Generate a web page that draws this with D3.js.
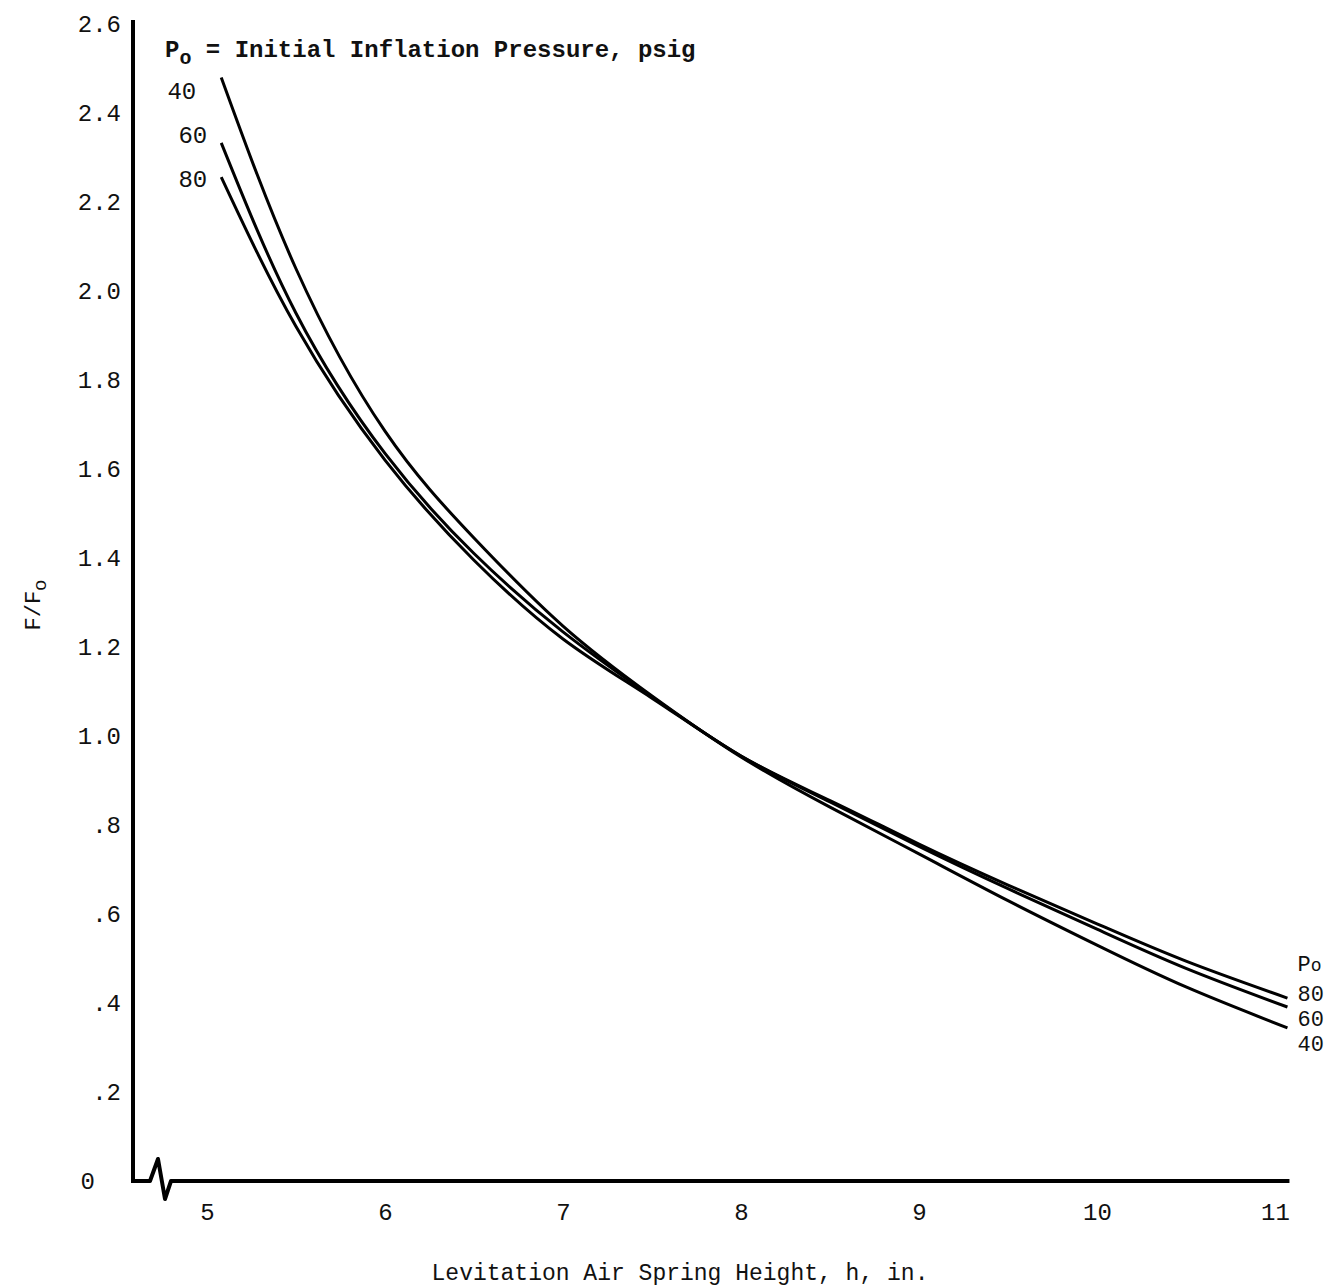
<!DOCTYPE html>
<html>
<head>
<meta charset="utf-8">
<script src="https://cdn.jsdelivr.net/npm/d3@7"></script>
<style>
  body { margin: 0; background: #fff; }
  text { font-family: "Liberation Mono", "Courier New", monospace; fill: #111; }
</style>
</head>
<body>
<script>
// F/Fo against air spring height, one curve per inflation pressure
var heights = [5.08, 5.5, 6, 6.5, 7, 7.5, 8, 8.5, 9, 9.5, 10, 10.5, 11.07];
var p40 = [2.48, 2.05, 1.685, 1.445, 1.247, 1.09, 0.953, 0.84, 0.735, 0.63, 0.53, 0.436, 0.344];
var p60 = [2.333, 1.95, 1.635, 1.41, 1.234, 1.088, 0.955, 0.852, 0.752, 0.657, 0.566, 0.478, 0.391];
var p80 = [2.256, 1.92, 1.62, 1.395, 1.218, 1.085, 0.955, 0.855, 0.757, 0.665, 0.578, 0.494, 0.411];
var pressures = ["40", "60", "80"];
var xTicks = [5, 6, 7, 8, 9, 10, 11];
var yTicks = [0, 0.2, 0.4, 0.6, 0.8, 1.0, 1.2, 1.4, 1.6, 1.8, 2.0, 2.2, 2.4, 2.6];

var width = 1343,
    height = 1287;

var x = d3.scaleLinear().domain([5, 11]).range([207, 1275]);
var y = d3.scaleLinear().domain([0, 2.6]).range([1181, 24]);

var svg = d3.select("body").append("svg")
    .attr("width", width)
    .attr("height", height);

var series = [p40, p60, p80].map(function (vals, i) {
  return { p: pressures[i], pts: heights.map(function (h, j) { return [h, vals[j]]; }) };
});

// y axis: plain thick line, labels only
var yAxis = d3.axisLeft(y).tickValues(yTicks).tickSize(0).tickPadding(12)
    .tickFormat(function (d) {
      if (d === 0) return "0";
      var s = d3.format(".1f")(d);
      return d < 1 ? s.replace(/^0/, "") : s;
    });
var gy = svg.append("g").attr("transform", "translate(133,0)").call(yAxis);
gy.select(".domain").remove();
gy.selectAll("text").style("font-size", "24px").attr("dy", "0.32em");
gy.selectAll(".tick").filter(function (d) { return d === 0; })
    .select("text").attr("x", -38);

svg.append("line")
    .attr("x1", 133).attr("x2", 133)
    .attr("y1", 20).attr("y2", y(0) + 2)
    .attr("stroke", "#000").attr("stroke-width", 4);

// x axis with the broken-scale squiggle near the origin
var xAxis = d3.axisBottom(x).tickValues(xTicks).tickSize(0).tickPadding(22)
    .tickFormat(d3.format("d"));
var gx = svg.append("g").attr("transform", "translate(0," + y(0) + ")").call(xAxis);
gx.select(".domain").remove();
gx.selectAll("text").style("font-size", "24px");

var y0 = y(0);
svg.append("path")
    .attr("d", "M131," + y0 + " L150," + y0 + " L158," + (y0 - 22) + " L165," + (y0 + 18) +
         " L171," + y0 + " L" + (x(11.07) + 2) + "," + y0)
    .attr("fill", "none").attr("stroke", "#000").attr("stroke-width", 4)
    .attr("stroke-linejoin", "round");

// curves
var line = d3.line()
    .x(function (d) { return x(d[0]); })
    .y(function (d) { return y(d[1]); })
    .curve(d3.curveNatural);

svg.append("g").selectAll("path")
    .data(series)
    .enter().append("path")
    .attr("d", function (d) { return line(d.pts); })
    .attr("fill", "none")
    .attr("stroke", "#000")
    .attr("stroke-width", 3);

// legend title
var title = svg.append("text")
    .attr("x", 165).attr("y", 57)
    .style("font-size", "24px")
    .style("font-weight", "bold");
title.append("tspan").text("P");
title.append("tspan").attr("dy", 7).style("font-size", "20px").text("o");
title.append("tspan").attr("dy", -7).text(" = Initial Inflation Pressure, psig");

// left labels at the start of each curve
var leftPos = { "40": [-25, 22], "60": [-14, 0], "80": [-14, 10] };
series.forEach(function (s) {
  svg.append("text")
    .attr("x", x(heights[0]) + leftPos[s.p][0])
    .attr("y", y(s.pts[0][1]) + leftPos[s.p][1])
    .attr("text-anchor", "end")
    .style("font-size", "24px")
    .text(s.p);
});

// right labels
var rx = x(heights[heights.length - 1]) + 10;
var right = svg.append("g").style("font-size", "22px");
var rp = right.append("text").attr("x", rx).attr("y", 971);
rp.append("tspan").text("P");
rp.append("tspan").style("font-size", "18px").text("o");
var rightY = { "80": 1001, "60": 1026, "40": 1051 };
pressures.forEach(function (p) {
  right.append("text").attr("x", rx).attr("y", rightY[p]).text(p);
});

// axis titles
svg.append("text")
    .attr("x", 680).attr("y", 1280)
    .attr("text-anchor", "middle")
    .style("font-size", "23px")
    .text("Levitation Air Spring Height, h, in.");

var yt = svg.append("text")
    .attr("transform", "translate(40,605) rotate(-90)")
    .attr("text-anchor", "middle")
    .style("font-size", "22px");
yt.append("tspan").text("F/F");
yt.append("tspan").attr("dy", 6).style("font-size", "19px").text("o");
</script>
</body>
</html>
